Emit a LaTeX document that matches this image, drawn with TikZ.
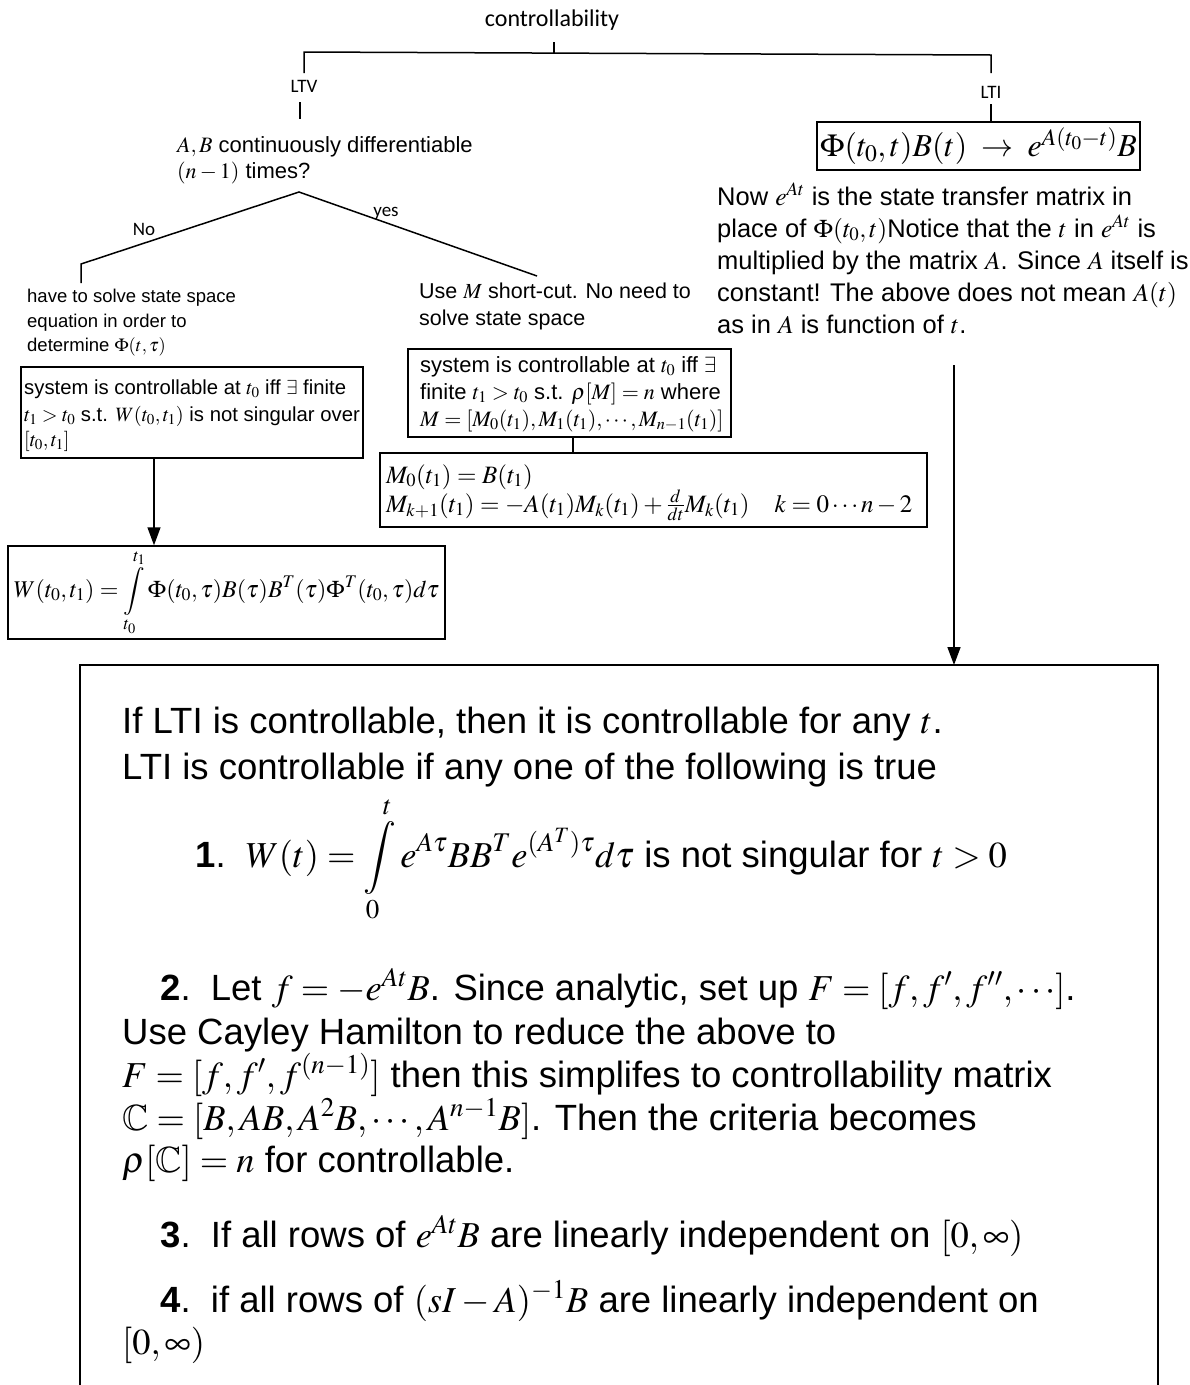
\documentclass[tikz,border=0pt]{standalone}
\usepackage{mathptmx}
\usepackage{amssymb}
\usepackage[no-math]{fontspec}
\setmainfont{Liberation Sans}
\newfontfamily\calib{Carlito}
\usetikzlibrary{arrows.meta}
\newcommand\myfs[2]{\fontsize{#1}{#2}\selectfont}
\begin{document}
\begin{tikzpicture}[x=1pt,y=-1pt,
  ln/.style={line width=1.5pt},
  boxnode/.style={draw, line width=1.5pt, inner sep=0pt},
  txt/.style={anchor=base west, inner sep=0pt},
  lab/.style={inner sep=0pt},
  arr/.style={-{Triangle[length=18pt,width=13pt]}, line width=1.5pt}]
\useasboundingbox (0,0) rectangle (1190,1385);

% ---------- tree top ----------
\node[lab, font=\calib\myfs{24}{28}] (ctrl) at (552,20) {controllability};
\node[lab, font=\calib\myfs{19}{22}] (ltv) at (304,86) {LTV};
\node[lab, font=\calib\myfs{19}{22}] (lti) at (991,92) {LTI};
\coordinate (t0) at (554,42);
\coordinate (t1) at (554,53);
\coordinate (hl) at (304,52);
\coordinate (hr) at (991,55);
\coordinate (ltva) at (304,73);
\coordinate (ltvb) at (300,102);
\coordinate (ltvc) at (300,119);
\coordinate (ltia) at (991,73);
\coordinate (ltib) at (991,104);
\draw[ln] (t0) -- (t1);
\draw[ln] (ltva) -- (hl) -- (hr) -- (ltia);
\draw[ln] (ltvb) -- (ltvc);

% ---------- LTI branch ----------
\node[boxnode, minimum width=323pt, minimum height=48pt, font=\myfs{32}{38}] (ltibox) at (978.5,146)
  {$\Phi(t_0,t)B(t)\;\rightarrow\;e^{A(t_0-t)}B$};
\draw[ln] (ltib) -- (ltib |- ltibox.north);

\begin{scope}[font=\myfs{25.5}{32}]
\node[txt] (r1) at (717,205) {Now $e^{At}$ is the state transfer matrix in};
\node[txt] (r2) at (717,237) {place of $\Phi(t_0,t)$Notice that the $t$ in $e^{At}$ is};
\node[txt] (r3) at (717,269) {multiplied by the matrix $A$. Since $A$ itself is};
\node[txt] (r4) at (717,301) {constant! The above does not mean $A(t)$};
\node[txt] (r5) at (717,333) {as in $A$ is function of $t$.};
\end{scope}

% ---------- LTV branch ----------
\begin{scope}[font=\myfs{22}{27}]
\node[txt] (q1) at (177,152) {$A,B$ continuously differentiable};
\node[txt] (q2) at (177,178) {$(n-1)$ times?};
\end{scope}
\coordinate (apex) at (299,192);
\coordinate (noa) at (81,264);
\coordinate (nob) at (81,283);
\coordinate (yesa) at (537,276);
\draw[ln] (nob) -- (noa) -- (apex) -- (yesa);
\node[lab, font=\calib\myfs{19}{22}] (nol) at (144,229) {No};
\node[lab, font=\calib\myfs{19}{22}] (yesl) at (386,213) {yes};

% left column
\begin{scope}[font=\myfs{18.5}{24}]
\node[txt] (a1) at (27,302) {have to solve state space};
\node[txt] (a2) at (27,327) {equation in order to};
\node[txt] (a3) at (27,351) {determine $\Phi(t,\tau)$};
\end{scope}
\node[boxnode, minimum width=342pt, minimum height=91pt] (lbox) at (192,412.5) {};
\begin{scope}[font=\myfs{20.3}{26}]
\node[txt] (b1) at (24,394) {system is controllable at $t_0$ iff $\exists$ finite};
\node[txt] (b2) at (24,421) {$t_1>t_0$ s.t. $W(t_0,t_1)$ is not singular over};
\node[txt] (b3) at (24,446) {$[t_0,t_1]$};
\end{scope}
\node[boxnode, minimum width=437pt, minimum height=93pt, font=\myfs{24}{30}] (wbox) at (226.5,592.5)
  {$\displaystyle W(t_0,t_1)=\int\limits_{t_0}^{t_1}\Phi(t_0,\tau)B(\tau)B^T(\tau)\Phi^T(t_0,\tau)d\tau$};
\coordinate (la) at (154,0);
\draw[arr] (la |- lbox.south) -- (la |- wbox.north);

% middle column
\begin{scope}[font=\myfs{21.5}{28}]
\node[txt] (c1) at (419,298) {Use $M$ short-cut. No need to};
\node[txt] (c2) at (419,325) {solve state space};
\end{scope}
\node[boxnode, minimum width=323pt, minimum height=88pt] (mbox) at (569.5,393) {};
\begin{scope}[font=\myfs{22}{27}]
\node[txt] (d1) at (420,372) {system is controllable at $t_0$ iff $\exists$};
\node[txt] (d2) at (420,399) {finite $t_1>t_0$ s.t. $\rho[M]=n$ where};
\node[txt] (d3) at (420,426) {$M=[M_0(t_1),M_1(t_1),\cdots,M_{n-1}(t_1)]$};
\end{scope}
\node[boxnode, minimum width=547pt, minimum height=74pt] (kbox) at (653.5,490) {};
\begin{scope}[font=\myfs{25}{29}]
\node[txt] (k1) at (386,483) {$M_0(t_1)=B(t_1)$};
\node[txt] (k2) at (386,512) {$M_{k+1}(t_1)=-A(t_1)M_k(t_1)+\frac{d}{dt}M_k(t_1)\quad k=0\cdots n-2$};
\end{scope}
\coordinate (mc) at (573,0);
\draw[ln] (mc |- mbox.south) -- (mc |- kbox.north);

% ---------- big box ----------
\coordinate (bl) at (80,1390);
\coordinate (tl) at (80,665);
\coordinate (tr) at (1158,665);
\coordinate (br) at (1158,1390);
\draw[ln] (bl) -- (tl) -- (tr) -- (br);
\coordinate (rstart) at (954,365);
\coordinate (bigtop) at (954,665);
\draw[arr] (rstart) -- (bigtop);

\begin{scope}[font=\myfs{36.5}{43}]
\node[txt] (e1) at (122,733) {If LTI is controllable, then it is controllable for any $t$.};
\node[txt] (e2) at (122,779) {LTI is controllable if any one of the following is true};
\node[txt] (e3) at (195,867) {\textbf{1}.\ \ $\displaystyle W(t)=\int\limits_0^t e^{A\tau}BB^Te^{(A^T)\tau}d\tau$ is not singular for $t>0$};
\node[txt] (e4) at (160,1000) {\textbf{2}.\ \ Let $f=-e^{At}B$. Since analytic, set up $F=[f,f',f'',\cdots]$.};
\node[txt] (e5) at (122,1044) {Use Cayley Hamilton to reduce the above to};
\node[txt] (e6) at (122,1087) {$F=[f,f',f^{(n-1)}]$ then this simplifes to controllability matrix};
\node[txt] (e7) at (122,1130) {$\mathbb{C}=[B,AB,A^2B,\cdots,A^{n-1}B]$. Then the criteria becomes};
\node[txt] (e8) at (122,1172) {$\rho[\mathbb{C}]=n$ for controllable.};
\node[txt] (e9) at (160,1247) {\textbf{3}.\ \ If all rows of $e^{At}B$ are linearly independent on $[0,\infty)$};
\node[txt] (e10) at (160,1312) {\textbf{4}.\ \ if all rows of $(sI-A)^{-1}B$ are linearly independent on};
\node[txt] (e11) at (122,1354) {$[0,\infty)$};
\end{scope}
\end{tikzpicture}
\end{document}
